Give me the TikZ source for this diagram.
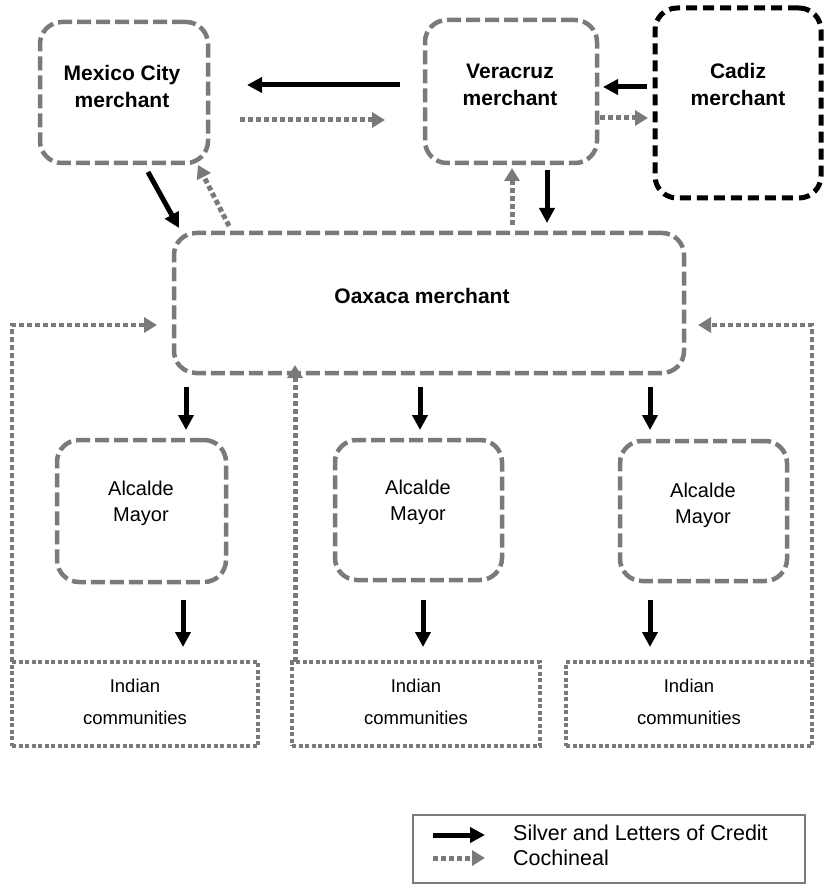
\documentclass[tikz,border=0pt]{standalone}
\usepackage{fontspec}
\setmainfont{Liberation Sans}
\usetikzlibrary{arrows.meta}
\definecolor{boxgray}{HTML}{7A7A7A}
\begin{document}
\begin{tikzpicture}[x=1pt,y=-1pt,
  gbox/.style={draw=boxgray,line width=4.5pt,dash pattern=on 14pt off 5pt,rounded corners=22pt,inner sep=0pt},
  kbox/.style={draw=black,line width=5pt,dash pattern=on 11pt off 6pt,rounded corners=22pt,inner sep=0pt},
  ibox/.style={draw=boxgray,line width=4pt,dash pattern=on 4pt off 2.5pt,inner sep=0pt},
  btxt/.style={font=\fontsize{21}{27}\selectfont\bfseries,align=center,inner sep=0pt},
  rtxt/.style={font=\fontsize{20}{26}\selectfont,align=center,inner sep=0pt},
  itxt/.style={font=\fontsize{18.5}{32}\selectfont,align=center,inner sep=0pt},
  silver/.style={draw=black,line width=5pt,-{Triangle[length=15pt,width=15pt]}},
  coch/.style={draw=boxgray,line width=5pt,dash pattern=on 5pt off 3pt,-{Triangle[length=13pt,width=15pt,fill=boxgray]}},
]
\useasboundingbox (0,0) rectangle (823,885);
% boxes
\node[gbox,minimum width=168pt,minimum height=141pt] (mex) at (124,92.5) {};
\node[gbox,minimum width=172pt,minimum height=143pt] (ver) at (511,91.5) {};
\node[kbox,minimum width=166pt,minimum height=190pt] (cad) at (738,103) {};
\node[gbox,minimum width=510pt,minimum height=140pt] (oax) at (429,303) {};
\node[gbox,minimum width=169pt,minimum height=142pt] (alc1) at (141.5,511) {};
\node[gbox,minimum width=167pt,minimum height=140pt] (alc2) at (418.5,510) {};
\node[gbox,minimum width=167pt,minimum height=140pt] (alc3) at (703.5,511) {};
\node[ibox,minimum width=246pt,minimum height=84pt] (ind1) at (135,704) {};
\node[ibox,minimum width=248pt,minimum height=84pt] (ind2) at (416,704) {};
\node[ibox,minimum width=246pt,minimum height=84pt] (ind3) at (689,704) {};
% texts
\node[btxt] (mext) at (122,86) {Mexico City\\merchant};
\node[btxt] (vert) at (510,85) {Veracruz\\merchant};
\node[btxt] (cadt) at (738,84) {Cadiz\\merchant};
\node[btxt] (oaxt) at (422,296) {Oaxaca merchant};
\node[rtxt] (alc1t) at (141,503) {Alcalde\\Mayor};
\node[rtxt] (alc2t) at (418,502) {Alcalde\\Mayor};
\node[rtxt] (alc3t) at (703,505) {Alcalde\\Mayor};
\node[itxt] (ind1t) at (135,702) {Indian\\communities};
\node[itxt] (ind2t) at (416,702) {Indian\\communities};
\node[itxt] (ind3t) at (689,702) {Indian\\communities};
% connector end points
\coordinate (vm1) at (400,85); \coordinate (vm2) at (247,85);
\coordinate (mv1) at (240,120); \coordinate (mv2) at (385,120);
\coordinate (cv1) at (647,87); \coordinate (cv2) at (603,87);
\coordinate (vc1) at (600,118); \coordinate (vc2) at (648,118);
\coordinate (mo1) at (148,172); \coordinate (mo2) at (179,228);
\coordinate (om1) at (229,226); \coordinate (om2) at (198,165);
\coordinate (ov1) at (512,225); \coordinate (ov2) at (512,168);
\coordinate (vo1) at (547,170); \coordinate (vo2) at (547,223);
\coordinate (oa1s) at (186,387); \coordinate (oa1e) at (186,430);
\coordinate (oa2s) at (420,387); \coordinate (oa2e) at (420,430);
\coordinate (oa3s) at (650,387); \coordinate (oa3e) at (650,430);
\coordinate (ai1s) at (183,600); \coordinate (ai1e) at (183,647);
\coordinate (ai2s) at (423,600); \coordinate (ai2e) at (423,647);
\coordinate (ai3s) at (650,600); \coordinate (ai3e) at (650,647);
\coordinate (io2s) at (295,662); \coordinate (io2e) at (295,365);
\coordinate (io1s) at (12,662); \coordinate (io1e) at (157,325);
\coordinate (io3s) at (812,662); \coordinate (io3e) at (698,325);
% silver
\draw[silver] (vm1) -- (vm2);
\draw[silver] (cv1) -- (cv2);
\draw[silver] (mo1) -- (mo2);
\draw[silver] (vo1) -- (vo2);
\draw[silver] (oa1s) -- (oa1e);
\draw[silver] (oa2s) -- (oa2e);
\draw[silver] (oa3s) -- (oa3e);
\draw[silver] (ai1s) -- (ai1e);
\draw[silver] (ai2s) -- (ai2e);
\draw[silver] (ai3s) -- (ai3e);
% cochineal
\draw[coch] (mv1) -- (mv2);
\draw[coch] (vc1) -- (vc2);
\draw[coch] (om1) -- (om2);
\draw[coch] (ov1) -- (ov2);
\draw[coch] (io2s) -- (io2e);
\draw[coch,line width=3.5pt] (io1s) |- (io1e);
\draw[coch,line width=3.5pt] (io3s) |- (io3e);
% legend
\node[draw=boxgray,line width=2pt,minimum width=392pt,minimum height=68pt,inner sep=0pt] (leg) at (609,849) {};
\coordinate (l1s) at (433,835); \coordinate (l1e) at (485,835);
\coordinate (l2s) at (433,858); \coordinate (l2e) at (485,858);
\draw[silver] (l1s) -- (l1e);
\draw[coch] (l2s) -- (l2e);
\node[anchor=west,inner sep=0pt,font=\fontsize{21.5}{24}\selectfont] (lt1) at (513,833) {Silver and Letters of Credit};
\node[anchor=west,inner sep=0pt,font=\fontsize{21.5}{24}\selectfont] (lt2) at (513,858) {Cochineal};
\end{tikzpicture}
\end{document}
